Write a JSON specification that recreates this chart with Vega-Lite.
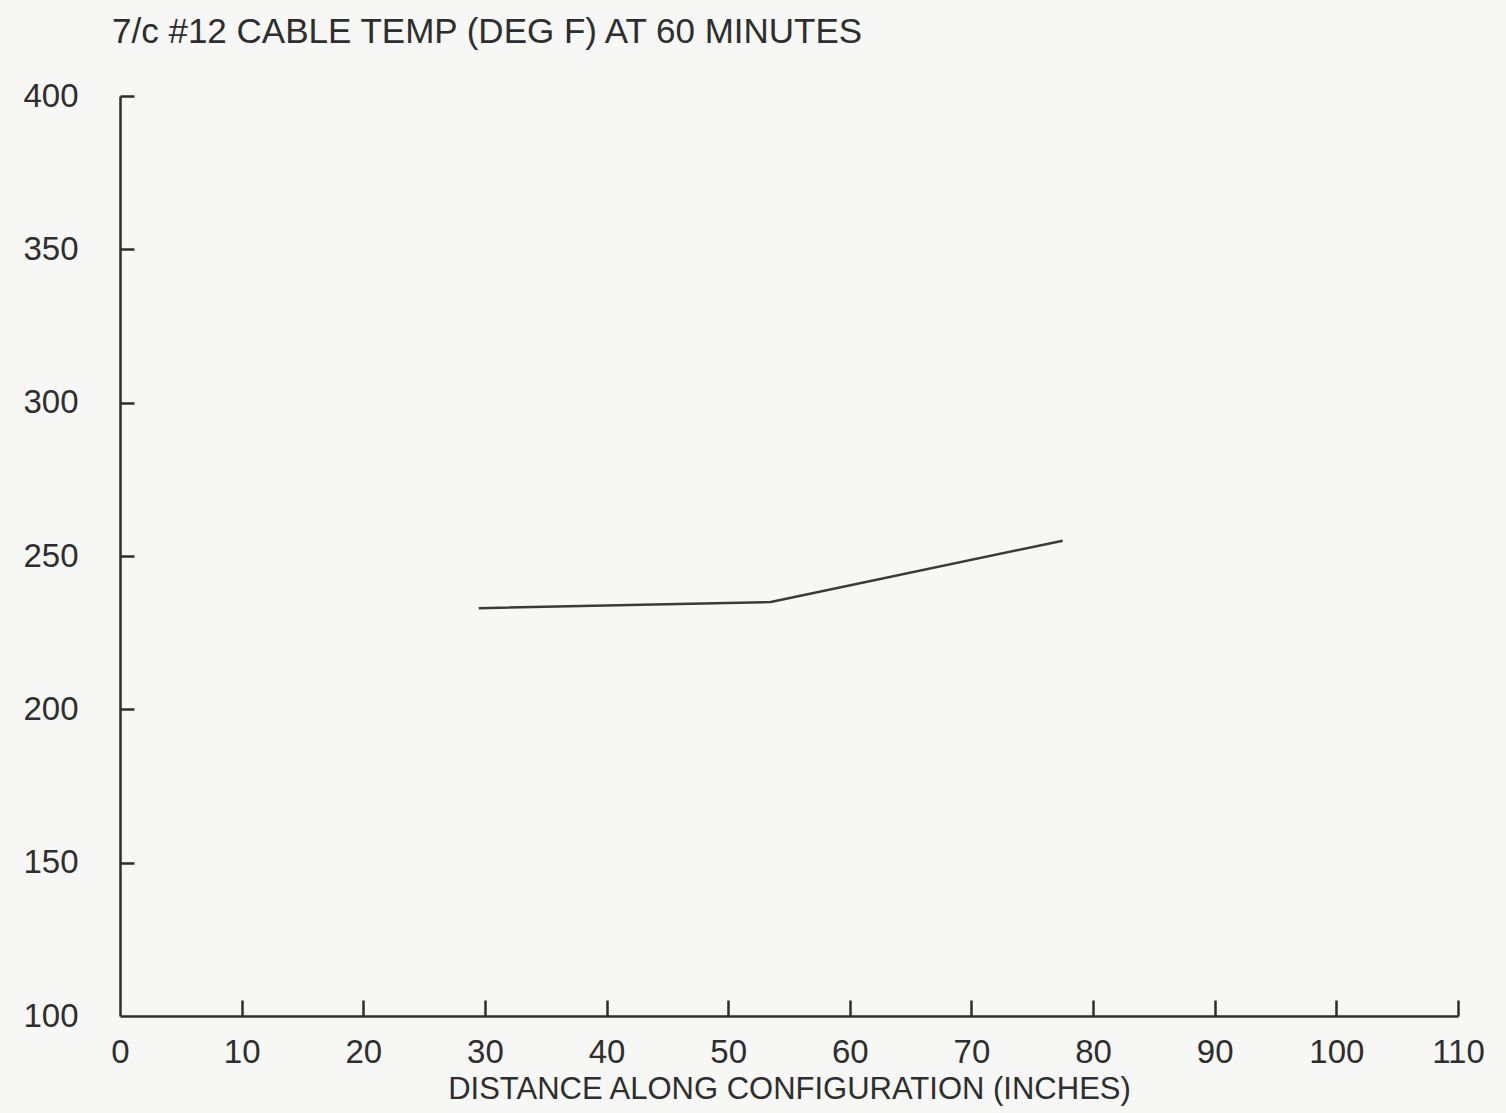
{
  "$schema": "https://vega.github.io/schema/vega-lite/v6.json",
  "autosize": {"type": "none"},
  "width": 1338,
  "height": 920,
  "padding": {"left": 120, "top": 96, "right": 48, "bottom": 97},
  "background": "#f7f7f5",
  "title": {
    "text": "7/c #12 CABLE TEMP (DEG F) AT 60 MINUTES",
    "anchor": "start",
    "frame": "group",
    "offset": 30,
    "dx": -8,
    "font": "Liberation Sans",
    "fontSize": 35,
    "fontWeight": "normal",
    "color": "#2e2e2e"
  },
  "data": {
    "values": [
      {"distance": 29.5, "temp": 233},
      {"distance": 53.5, "temp": 235},
      {"distance": 77.5, "temp": 255}
    ]
  },
  "layer": [
    {
      "mark": {"type": "line", "color": "#3a3a3a", "strokeWidth": 2.5},
      "encoding": {
        "x": {
          "field": "distance",
          "type": "quantitative",
          "scale": {"domain": [0, 110], "nice": false, "zero": false},
          "axis": {
            "orient": "bottom",
            "values": [0, 10, 20, 30, 40, 50, 60, 70, 80, 90, 100, 110],
            "title": "DISTANCE ALONG CONFIGURATION (INCHES)",
            "titleFont": "Liberation Sans",
            "titleFontSize": 31,
            "titleFontWeight": "normal",
            "titleColor": "#2e2e2e",
            "titlePadding": 5,
            "labelFont": "Liberation Sans",
            "labelFontSize": 33,
            "labelColor": "#2e2e2e",
            "labelPadding": 20,
            "labelFlush": false,
            "ticks": false,
            "domainColor": "#2e2e2e",
            "domainWidth": 2.5,
            "grid": false
          }
        },
        "y": {
          "field": "temp",
          "type": "quantitative",
          "scale": {"domain": [100, 400], "nice": false, "zero": false},
          "axis": {
            "orient": "left",
            "values": [100, 150, 200, 250, 300, 350, 400],
            "title": null,
            "labelFont": "Liberation Sans",
            "labelFontSize": 33,
            "labelColor": "#2e2e2e",
            "labelPadding": 42,
            "labelFlush": false,
            "ticks": false,
            "domainColor": "#2e2e2e",
            "domainWidth": 2.5,
            "grid": false
          }
        }
      }
    },
    {
      "mark": {"type": "line", "strokeOpacity": 0},
      "encoding": {
        "x": {
          "field": "distance",
          "type": "quantitative",
          "axis": {
            "orient": "top",
            "offset": -920,
            "values": [10, 20, 30, 40, 50, 60, 70, 80, 90, 100, 110],
            "title": null,
            "labels": false,
            "domain": false,
            "tickSize": 16,
            "tickWidth": 2.5,
            "tickColor": "#2e2e2e",
            "grid": false
          }
        },
        "y": {
          "field": "temp",
          "type": "quantitative",
          "axis": {
            "orient": "right",
            "offset": -1338,
            "values": [150, 200, 250, 300, 350, 400],
            "title": null,
            "labels": false,
            "domain": false,
            "tickSize": 14,
            "tickWidth": 2.5,
            "tickColor": "#2e2e2e",
            "grid": false
          }
        }
      }
    }
  ],
  "resolve": {"axis": {"x": "independent", "y": "independent"}},
  "config": {"view": {"stroke": null}}
}
